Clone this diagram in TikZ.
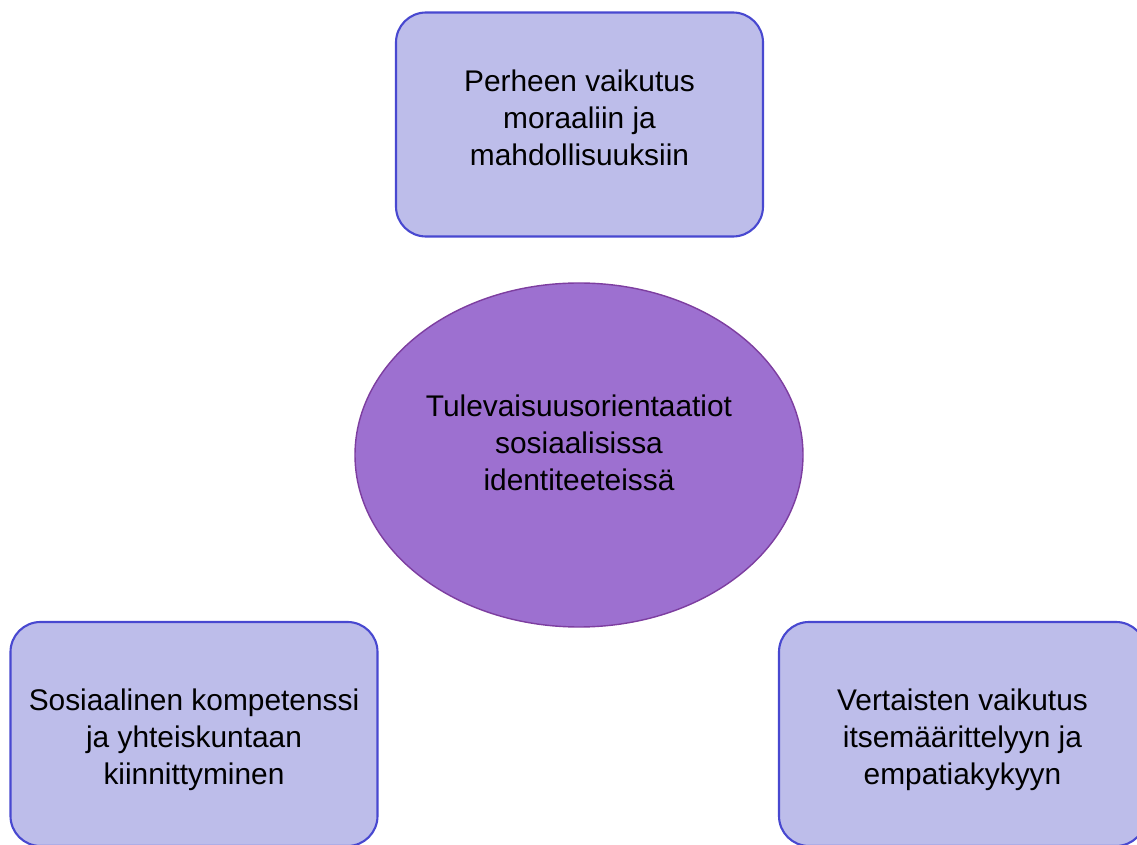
\documentclass[tikz,border=0pt]{standalone}
\usepackage{fontspec}
\setsansfont{Liberation Sans}
\usetikzlibrary{
  positioning,
  shapes.geometric
}
\definecolor{boxfill}{RGB}{189,189,234}
\definecolor{boxline}{RGB}{72,72,208}
\definecolor{ovalfill}{RGB}{157,112,208}
\definecolor{ovalline}{RGB}{125,62,160}

\begin{document}
\begin{tikzpicture}[
  every node/.style={font=\sffamily\fontsize{17}{21}\selectfont},
  themebox/.style={draw=boxline, fill=boxfill, line width=1.2pt,
               rounded corners=0.6cm, minimum width=7.34cm,
               minimum height=4.48cm, align=center, inner sep=0pt},
  coreoval/.style={ellipse, draw=ovalline, fill=ovalfill, line width=0.8pt,
               minimum width=8.96cm, minimum height=6.88cm, align=center,
               inner sep=0pt}
]
\useasboundingbox (0,0) rectangle (22.74,16.88);
\clip (0,0) rectangle (22.74,16.88);

\node[themebox, text depth=8pt] (family) at (11.59, 14.39)
  {Perheen vaikutus\\moraaliin ja\\mahdollisuuksiin};
\node[coreoval, text depth=13.7pt] (core) at (11.58, 7.78)
  {Tulevaisuusorientaatiot\\sosiaalisissa\\identiteeteissä};
\node[themebox, text height=61.2pt] (social) at (3.88, 2.2)
  {Sosiaalinen kompetenssi\\ja yhteiskuntaan\\kiinnittyminen};
\node[themebox, text height=61.2pt] (peers) at (19.25, 2.2)
  {Vertaisten vaikutus\\itsemäärittelyyn ja\\empatiakykyyn};

\end{tikzpicture}
\end{document}
